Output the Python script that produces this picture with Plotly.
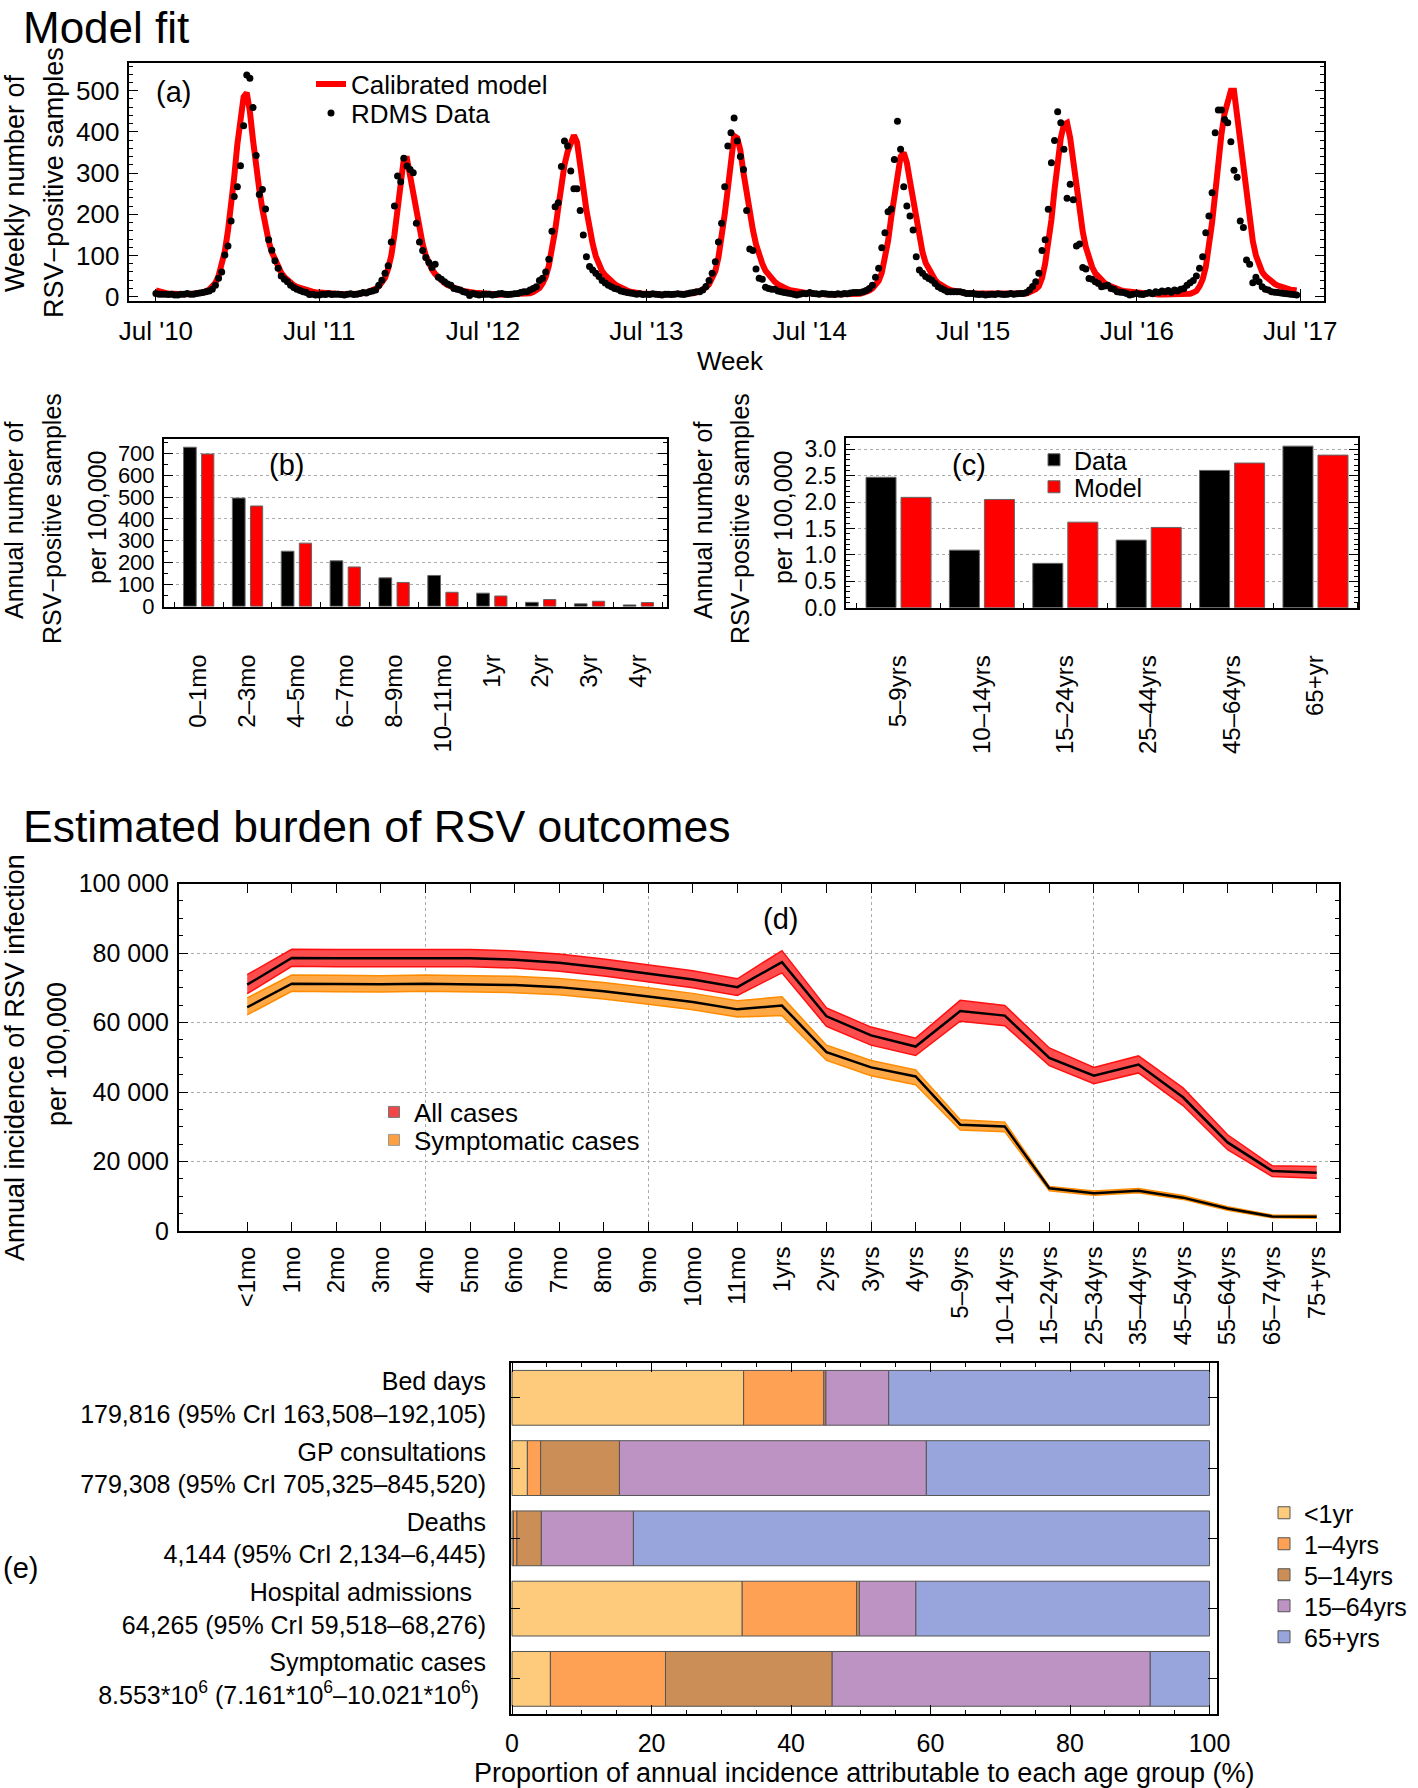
import numpy as np
import pandas as pd
import plotly.graph_objects as go

W, H = 1418, 1788
FONT = "Liberation Sans, Arial, sans-serif"


def px(x):
    return x / W


def py(y):
    return 1 - y / H


# ---------------- Panel (a): weekly RSV-positive samples ----------------
season_starts = ["2010-07-01", "2011-07-01", "2012-07-01", "2013-07-01",
                 "2014-07-01", "2015-07-01", "2016-07-01"]
year_ticks = ["2010-07-01", "2011-07-01", "2012-07-01", "2013-07-01",
              "2014-07-01", "2015-07-01", "2016-07-01", "2017-07-01"]
year_labels = ["Jul '10", "Jul '11", "Jul '12", "Jul '13",
               "Jul '14", "Jul '15", "Jul '16", "Jul '17"]

rdms_2010 = [8, 6, 6, 6, 5, 6, 4, 4, 6, 6, 8, 6, 6, 8, 9, 10, 12, 14,
             18, 28, 45, 60, 101, 123, 184, 243, 267, 318, 415, 538, 530, 459, 343, 248,
             260, 213, 138, 113, 87, 69, 50, 42, 36, 28, 22, 18, 15, 12, 10, 5, 6, 4]
rdms_2011 = [4, 6, 5, 7, 5, 6, 6, 5, 4, 6, 7, 5, 6, 8, 10, 9, 12, 14,
             16, 28, 40, 57, 75, 133, 220, 293, 279, 336, 317, 309, 301, 178, 133, 112,
             95, 83, 71, 79, 47, 42, 36, 31, 28, 20, 18, 16, 12, 10, 3, 8, 6, 4]
rdms_2012 = [5, 6, 6, 4, 5, 7, 8, 6, 5, 6, 7, 8, 10, 12, 12, 16,
             20, 24, 39, 45, 60, 91, 159, 218, 228, 316, 378, 366, 305, 262, 262, 209,
             150, 97, 73, 65, 57, 49, 39, 33, 28, 24, 20, 18, 14, 12, 10, 9, 8, 6, 7, 5]
rdms_2013 = [6, 5, 7, 6, 5, 4, 6, 6, 5, 6, 7, 6, 5, 7, 9, 10, 12,
             12, 16, 25, 39, 57, 85, 133, 178, 267, 366, 398, 434, 378, 340, 309, 209,
             116, 112, 67, 45, 42, 23, 20, 18, 18, 14, 12, 10, 9, 8, 6, 4, 6, 8, 7]
rdms_2014 = [10, 8, 7, 6, 8, 7, 6, 6, 5, 7, 6, 8, 7, 9, 10, 10,
             10, 12, 15, 20, 28, 47, 69, 119, 155, 206, 213, 333, 426, 358, 267, 220,
             196, 162, 97, 65, 57, 49, 44, 40, 32, 24, 20, 16, 12, 12, 12, 12, 12, 10, 8, 8]
rdms_2015 = [8, 6, 5, 6, 4, 5, 6, 5, 7, 6, 5, 6, 8, 6, 7, 8,
             8, 10, 16, 25, 36, 57, 112, 138, 212, 325, 379, 449, 422, 358, 239, 273,
             235, 123, 128, 71, 67, 44, 42, 36, 32, 24, 26, 28, 20, 18, 12, 11, 10, 8, 4, 6]
rdms_2016 = [8, 6, 5, 8, 10, 7, 12, 10, 14, 12, 15, 11, 16, 14, 18, 20, 28,
             34, 39, 50, 69, 97, 155, 196, 252, 398, 453, 453, 430, 422, 376, 307, 290,
             184, 168, 89, 79, 34, 47, 36, 24, 18, 16, 12, 11, 10, 9, 8, 7, 6, 5, 4]

model_2010 = [15, 12, 10, 9, 8, 7, 7, 6, 6, 6, 6, 6, 7, 8, 9, 10, 13, 17, 25, 34,
              50, 75, 110, 160, 220, 290, 370, 440, 485, 495, 450, 380, 310, 260, 212,
              170, 135, 108, 90, 72, 58, 48, 40, 34, 28, 24, 21, 18, 16, 14, 12, 11]
model_2011 = [10, 9, 8, 7, 7, 6, 6, 6, 6, 6, 6, 6, 7, 7, 8, 10, 12, 15, 19, 25,
              33, 46, 68, 100, 150, 215, 285, 335, 335, 290, 255, 205, 165, 128, 100,
              81, 66, 55, 46, 39, 33, 28, 24, 21, 18, 16, 14, 12, 11, 10, 9, 9]
model_2012 = [9, 8, 7, 6, 6, 5, 5, 5, 5, 5, 5, 5, 5, 6, 7, 8, 11, 15, 21, 32,
              48, 75, 110, 160, 215, 270, 320, 352, 378, 392, 375, 330, 265, 210, 165,
              128, 98, 77, 62, 52, 44, 37, 31, 26, 21, 18, 15, 12, 10, 9, 8, 7]
model_2013 = [7, 6, 6, 5, 5, 5, 5, 5, 5, 5, 5, 5, 5, 6, 7, 8, 10, 13, 17, 22,
              30, 43, 62, 95, 140, 200, 262, 330, 390, 385, 355, 300, 250, 205, 162,
              127, 100, 80, 63, 52, 43, 36, 30, 25, 21, 18, 16, 14, 12, 11, 10, 9]
model_2014 = [8, 7, 6, 6, 5, 5, 5, 5, 5, 5, 5, 5, 5, 5, 5, 6, 7, 9, 11, 15,
              20, 27, 38, 58, 89, 135, 192, 250, 300, 340, 350, 325, 280, 232, 185,
              140, 108, 82, 66, 52, 41, 33, 27, 22, 19, 16, 14, 12, 11, 10, 9, 8]
model_2015 = [8, 7, 6, 6, 5, 5, 5, 5, 5, 5, 5, 5, 5, 5, 5, 6, 7, 8, 11, 14,
              18, 25, 45, 80, 130, 186, 260, 325, 385, 418, 422, 385, 325, 267, 205,
              158, 120, 92, 72, 57, 48, 40, 33, 28, 24, 21, 18, 16, 14, 13, 12, 11]
model_2016 = [9, 8, 7, 6, 6, 5, 5, 5, 5, 5, 5, 5, 5, 5, 5, 5, 6, 7, 10, 14,
              25, 42, 72, 120, 180, 250, 330, 395, 445, 480, 500, 500, 440, 375, 300,
              240, 180, 135, 100, 75, 60, 50, 42, 36, 31, 27, 24, 21, 19, 17, 16, 15]

rdms_seasons = [rdms_2010, rdms_2011, rdms_2012, rdms_2013, rdms_2014, rdms_2015, rdms_2016]
model_seasons = [model_2010, model_2011, model_2012, model_2013, model_2014, model_2015, model_2016]

# ---------------- Panel (b) ----------------
ages_b = ["0–1mo", "2–3mo", "4–5mo", "6–7mo", "8–9mo", "10–11mo", "1yr", "2yr", "3yr", "4yr"]
data_b = [728, 495, 252, 208, 130, 141, 60, 18, 11, 6]
model_b = [697, 459, 289, 180, 109, 64, 47, 31, 23, 17]

# ---------------- Panel (c) ----------------
ages_c = ["5–9yrs", "10–14yrs", "15–24yrs", "25–44yrs", "45–64yrs", "65+yr"]
data_c = [2.47, 1.09, 0.84, 1.28, 2.60, 3.06]
model_c = [2.09, 2.05, 1.62, 1.52, 2.74, 2.89]

# ---------------- Panel (d) ----------------
ages_d = ["<1mo", "1mo", "2mo", "3mo", "4mo", "5mo", "6mo", "7mo", "8mo", "9mo", "10mo", "11mo",
          "1yrs", "2yrs", "3yrs", "4yrs", "5–9yrs", "10–14yrs", "15–24yrs", "25–34yrs",
          "35–44yrs", "45–54yrs", "55–64yrs", "65–74yrs", "75+yrs"]
all_mid = [70.9, 78.6, 78.5, 78.5, 78.6, 78.5, 78.1, 77.2, 75.8, 74.2, 72.4, 70.2, 77.4,
           61.8, 56.3, 53.1, 63.3, 62.0, 49.8, 44.7, 47.9, 38.5, 25.5, 17.3, 16.8]
all_lo = [68.3, 76.2, 76.1, 76.1, 76.2, 76.1, 75.7, 74.8, 73.4, 71.8, 70.0, 67.8, 74.3,
          58.9, 53.5, 50.5, 60.4, 59.1, 47.6, 42.4, 45.5, 36.1, 23.4, 15.7, 15.2]
all_hi = [73.8, 81.1, 81.0, 81.0, 81.1, 81.0, 80.6, 79.7, 78.3, 76.7, 74.9, 72.6, 80.7,
          64.2, 58.7, 55.5, 66.4, 64.9, 52.7, 47.1, 50.4, 41.2, 27.7, 18.8, 18.6]
sym_mid = [64.4, 71.2, 71.1, 71.0, 71.2, 71.1, 70.8, 70.2, 69.0, 67.5, 65.9, 63.8, 64.9,
           51.5, 47.1, 44.5, 30.6, 30.1, 12.3, 10.9, 11.6, 9.6, 6.5, 4.2, 4.1]
sym_lo = [62.2, 69.0, 68.9, 68.8, 69.0, 68.9, 68.6, 68.0, 66.8, 65.3, 63.7, 61.6, 62.0,
          49.1, 44.7, 42.1, 29.1, 28.6, 11.6, 10.3, 11.0, 9.1, 6.0, 3.8, 3.7]
sym_hi = [67.1, 73.7, 73.6, 73.5, 73.7, 73.6, 73.3, 72.7, 71.5, 70.0, 68.4, 66.3, 67.4,
          53.5, 49.1, 46.4, 32.0, 31.3, 12.8, 11.5, 12.2, 10.2, 7.0, 4.6, 4.5]
y_ticks_d = [0, 20000, 40000, 60000, 80000, 100000]
y_labels_d = ["0", "20 000", "40 000", "60 000", "80 000", "100 000"]
grid_d = [4, 9, 14, 19]

# ---------------- Panel (e) ----------------
outcomes_e = [
    "Bed days<br>179,816 (95% CrI 163,508–192,105)",
    "GP consultations<br>779,308 (95% CrI 705,325–845,520)",
    "Deaths<br>4,144 (95% CrI 2,134–6,445)",
    "Hospital admissions\u00a0\u00a0<br>64,265 (95% CrI 59,518–68,276)",
    "Symptomatic cases<br>8.553*10<sup>6</sup> (7.161*10<sup>6</sup>–10.021*10<sup>6</sup>)\u00a0",
]
groups_e = ["<1yr", "1–4yrs", "5–14yrs", "15–64yrs", "65+yrs"]
share_lt1 = [33.2, 2.2, 0.2, 33.0, 5.5]
share_1_4 = [11.5, 1.9, 0.5, 16.4, 16.5]
share_5_14 = [0.3, 11.3, 3.5, 0.4, 23.9]
share_15_64 = [9.0, 44.0, 13.2, 8.1, 45.6]
share_65 = [46.0, 40.6, 82.6, 42.1, 8.5]
colors_e = ["#FDCB7B", "#FFA155", "#CC8E57", "#BD93C3", "#98A5DC"]

fig = go.Figure()

# ---- (a) traces
dates = np.concatenate([pd.date_range(s, periods=len(v), freq="7D").values
                        for s, v in zip(season_starts, rdms_seasons)])
model_all = np.concatenate(model_seasons)
rdms_all = np.concatenate(rdms_seasons)
fig.add_trace(go.Scatter(x=dates, y=model_all, mode="lines", name="Calibrated model",
                         line=dict(color="#FF0000", width=6), xaxis="x", yaxis="y",
                         legend="legend"))
fig.add_trace(go.Scatter(x=dates, y=rdms_all, mode="markers", name="RDMS Data",
                         marker=dict(color="black", size=7), xaxis="x", yaxis="y",
                         legend="legend2"))

# ---- (b) traces
bx = list(range(len(ages_b)))
fig.add_trace(go.Bar(x=bx, y=data_b, width=0.26, offset=-0.31, marker_color="black",
                     marker_line=dict(color="#666", width=1), xaxis="x2", yaxis="y2",
                     showlegend=False))
fig.add_trace(go.Bar(x=bx, y=model_b, width=0.25, offset=0.06, marker_color="#FF0000",
                     marker_line=dict(color="#666", width=1), xaxis="x2", yaxis="y2",
                     showlegend=False))

# ---- (c) traces
cx = list(range(len(ages_c)))
fig.add_trace(go.Bar(x=cx, y=data_c, width=0.36, offset=-0.39, marker_color="black",
                     marker_line=dict(color="#666", width=1), xaxis="x3", yaxis="y3",
                     name="Data", legend="legend3"))
fig.add_trace(go.Bar(x=cx, y=model_c, width=0.36, offset=0.03, marker_color="#FF0000",
                     marker_line=dict(color="#666", width=1), xaxis="x3", yaxis="y3",
                     name="Model", legend="legend4"))

# ---- (d) traces
dx = list(range(len(ages_d)))
k = 1000.0
for lo, hi, mid, edge, fillc in [(all_lo, all_hi, all_mid, "#FF1010", "#FF4D4D"),
                                 (sym_lo, sym_hi, sym_mid, "#FF8C00", "#FFA845")]:
    fig.add_trace(go.Scatter(x=dx, y=[v * k for v in hi], mode="lines",
                             line=dict(color=edge, width=1.5), xaxis="x4", yaxis="y4",
                             showlegend=False, hoverinfo="skip"))
    fig.add_trace(go.Scatter(x=dx, y=[v * k for v in lo], mode="lines", fill="tonexty",
                             fillcolor=fillc, line=dict(color=edge, width=1.5),
                             xaxis="x4", yaxis="y4", showlegend=False, hoverinfo="skip"))
    fig.add_trace(go.Scatter(x=dx, y=[v * k for v in mid], mode="lines",
                             line=dict(color="black", width=2.5), xaxis="x4", yaxis="y4",
                             showlegend=False))
fig.add_trace(go.Scatter(x=[None], y=[None], mode="markers", name="All cases",
                         marker=dict(symbol="square", size=11, color="#F04848",
                                     line=dict(color="#777", width=1)),
                         xaxis="x4", yaxis="y4", legend="legend5"))
fig.add_trace(go.Scatter(x=[None], y=[None], mode="markers", name="Symptomatic cases",
                         marker=dict(symbol="square", size=11, color="#FFA040",
                                     line=dict(color="#999", width=1)),
                         xaxis="x4", yaxis="y4", legend="legend6"))
# invisible trace for grid overlay axis
fig.add_trace(go.Scatter(x=[None], y=[None], mode="markers", xaxis="x6", yaxis="y4",
                         showlegend=False, hoverinfo="skip"))

# ---- (e) traces
shares = [share_lt1, share_1_4, share_5_14, share_15_64, share_65]
base = np.zeros(len(outcomes_e))
ey = list(range(len(outcomes_e)))
for i, (name, vals, col) in enumerate(zip(groups_e, shares, colors_e)):
    fig.add_trace(go.Bar(y=ey, x=vals, base=base.copy(), orientation="h", width=0.78,
                         marker=dict(color=col, line=dict(color="#555", width=1)),
                         name=name, xaxis="x5", yaxis="y5", legend=f"legend{7 + i}"))
    base = base + np.array(vals)

# ---------------- Layout ----------------
tickfont = dict(family=FONT, size=24, color="black")
common = dict(showline=True, linecolor="black", linewidth=2, mirror=True,
              ticks="inside", tickcolor="black", ticklen=9, tickwidth=1,
              zeroline=False, showgrid=False, tickfont=tickfont, automargin=False)

fig.update_layout(
    width=W, height=H, autosize=False,
    margin=dict(l=0, r=0, t=0, b=0, pad=0, autoexpand=False),
    paper_bgcolor="white", plot_bgcolor="white",
    barmode="overlay",
    font=dict(family=FONT, color="black"),
    xaxis=dict(common, domain=[px(128.6), px(1323.5)], anchor="y", type="date",
               range=["2010-05-01", "2017-08-22"], tickvals=year_ticks,
               ticktext=year_labels, ticklabelstandoff=6, mirror=True, ticklen=12,
               tickfont=dict(family=FONT, size=26, color="black")),
    yaxis=dict(common, domain=[py(301), py(62.7)], anchor="x", range=[-10.5, 568],
               tickvals=[0, 100, 200, 300, 400, 500], mirror="ticks",
               minor=dict(ticks="inside", ticklen=4, dtick=20, tickcolor="black"),
               tickfont=dict(family=FONT, size=26, color="black"), ticklabelstandoff=2),
    xaxis2=dict(common, domain=[px(164), px(666.7)], anchor="y2", range=[-0.71, 9.58],
                tickvals=bx, ticktext=ages_b, tickangle=-90, ticks="",
                ticklabelstandoff=36,
                minor=dict(ticks="inside", ticklen=5, tickmode="linear", tick0=0.5,
                           dtick=1, tickcolor="black")),
    yaxis2=dict(common, domain=[py(606.7), py(438.7)], anchor="x2", range=[-2, 767],
                tickvals=[0, 100, 200, 300, 400, 500, 600, 700], mirror="ticks",
                showgrid=True, gridcolor="#aaaaaa", griddash="dot", gridwidth=1,
                minor=dict(ticks="inside", ticklen=4, dtick=50, tickcolor="black"),
                ticklabelstandoff=3, tickfont=dict(family=FONT, size=22, color="black")),
    xaxis3=dict(common, domain=[px(846), px(1358)], anchor="y3", range=[-0.63, 5.51],
                tickvals=cx, ticktext=ages_c, tickangle=-90, ticks="",
                ticklabelstandoff=36,
                minor=dict(ticks="inside", ticklen=5, tickmode="linear", tick0=0.5,
                           dtick=1, tickcolor="black")),
    yaxis3=dict(common, domain=[py(607.7), py(438)], anchor="x3", range=[0, 3.214],
                tickvals=[0, 0.5, 1, 1.5, 2, 2.5, 3],
                ticktext=["0.0", "0.5", "1.0", "1.5", "2.0", "2.5", "3.0"],
                mirror="ticks", showgrid=True, gridcolor="#aaaaaa", griddash="dot",
                minor=dict(ticks="inside", ticklen=4, dtick=0.1, tickcolor="black"),
                ticklabelstandoff=3, tickfont=dict(family=FONT, size=23, color="black")),
    xaxis4=dict(common, domain=[px(179), px(1339)], anchor="y4", range=[-1.53, 24.5],
                tickvals=dx, ticktext=ages_d, tickangle=-90, mirror="ticks",
                ticklabelstandoff=4),
    xaxis6=dict(overlaying="x4", anchor="y4", range=[-1.53, 24.5], tickvals=grid_d,
                showticklabels=False, ticks="", showgrid=True, gridcolor="#aaaaaa",
                griddash="dot", gridwidth=1, zeroline=False, showline=False,
                automargin=False),
    yaxis4=dict(common, domain=[py(1231), py(883.6)], anchor="x4", range=[0, 100000],
                tickvals=y_ticks_d, ticktext=y_labels_d, mirror="ticks",
                showgrid=True, gridcolor="#aaaaaa", griddash="dot",
                minor=dict(ticks="inside", ticklen=4, dtick=5000, tickcolor="black"),
                ticklabelstandoff=3, tickfont=dict(family=FONT, size=25, color="black")),
    xaxis5=dict(common, domain=[px(511), px(1216.5)], anchor="y5", range=[-0.15, 101],
                tickvals=[0, 20, 40, 60, 80, 100], mirror="ticks", ticklabelstandoff=6,
                minor=dict(ticks="inside", ticklen=4, dtick=5, tickcolor="black"),
                tickfont=dict(family=FONT, size=25, color="black")),
    yaxis5=dict(common, domain=[py(1714), py(1362.7)], anchor="x5", range=[4.5, -0.5],
                tickvals=ey, ticktext=outcomes_e, mirror="ticks", ticklabelstandoff=18,
                tickfont=dict(family=FONT, size=25, color="black")),
)

# one legend per item, each placed where the reference shows it
legend_spots = [
    ("legend", 353, 84, 26), ("legend2", 353, 113, 26),
    ("legend3", 1076, 460, 25), ("legend4", 1076, 487, 25),
    ("legend5", 416, 1112, 26), ("legend6", 416, 1140, 26),
    ("legend7", 1306, 1513, 25), ("legend8", 1306, 1544, 25),
    ("legend9", 1306, 1575, 25), ("legend10", 1306, 1606, 25),
    ("legend11", 1306, 1637, 25),
]
for lid, tx, ty, fs in legend_spots:
    fig.update_layout({lid: dict(x=px(tx - 42), y=py(ty), xanchor="left", yanchor="middle",
                                 xref="container", yref="container",
                                 bgcolor="rgba(0,0,0,0)", borderwidth=0,
                                 font=dict(family=FONT, size=fs, color="black"))})


def note(text, x, y, size=24, angle=0, xanchor="center"):
    fig.add_annotation(text=text, x=px(x), y=py(y), xref="paper", yref="paper",
                       showarrow=False, textangle=angle, xanchor=xanchor,
                       yanchor="middle", font=dict(family=FONT, size=size, color="black"))


note("Model fit", 21, 27, size=44, xanchor="left")
note("Estimated burden of RSV outcomes", 21, 826, size=44.5, xanchor="left")
note("(a)", 173, 92, size=29)
note("(b)", 286, 465, size=29)
note("(c)", 969, 465, size=29)
note("(d)", 780, 919, size=29)
note("(e)", 20, 1568, size=29)
note("Week", 730, 361, size=26)
note("Weekly number of", 15, 183, size=27, angle=-90)
note("RSV−positive samples", 54, 183, size=27, angle=-90)
note("Annual number of", 14, 521, size=25, angle=-90)
note("RSV−positive samples", 52, 519, size=25, angle=-90)
note("per 100,000", 97, 518, size=25, angle=-90)
note("Annual number of", 703, 521, size=25, angle=-90)
note("RSV−positive samples", 740, 519, size=25, angle=-90)
note("per 100,000", 783, 518, size=25, angle=-90)
note("Annual incidence of RSV infection", 15, 1058, size=27, angle=-90)
note("per 100,000", 57, 1054, size=27, angle=-90)
note("Proportion of annual incidence attributable to each age group (%)", 864, 1773, size=27)

pin_script = (
    "document.documentElement.style.margin='0';"
    "document.documentElement.style.padding='0';"
    "document.documentElement.style.overflow='hidden';"
    "document.body.style.margin='0';"
    "document.body.style.padding='0';"
    "document.body.style.overflow='hidden';"
    "var gd=document.getElementById('{plot_id}');"
    "gd.style.position='fixed';gd.style.left='0px';gd.style.top='0px';"
)
fig.write_html("out.html", config={"displayModeBar": False}, post_script=pin_script)
